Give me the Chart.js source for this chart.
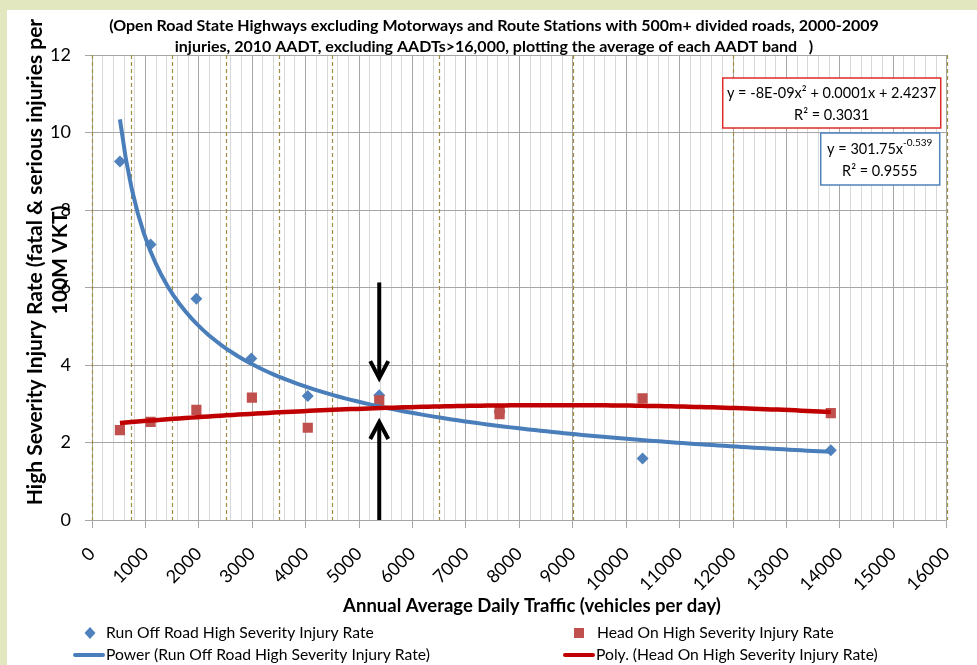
<!DOCTYPE html>
<html>
<head>
<meta charset="utf-8">
<script src="https://cdn.jsdelivr.net/npm/chart.js@4.4.1/dist/chart.umd.min.js"></script>
<style>
    html, body { margin: 0; padding: 0; background: #e3e7bf; }
    canvas { display: block; }
</style>
</head>
<body>
<canvas id="chart" width="977" height="665"></canvas>
<script>
// values
// (the 7630 run-off-road point sits under the head-on squares there)
const ror_aadt = [523, 1096, 1954, 2982, 4039, 5377, 7630, 10306, 13830];
const ror_rate = [9.25, 7.11, 5.71, 4.17, 3.20, 3.22, 2.80, 1.59, 1.80];
const head_on_aadt = [523, 1096, 1954, 2993, 4039, 5377, 7630, 7630, 10306, 13830];
const head_on_rate = [2.32, 2.53, 2.84, 3.16, 2.38, 3.09, 2.86, 2.73, 3.14, 2.76];

// AADT band boundaries (dashed lines)
const band_edges = [0, 725, 1500, 2500, 3500, 4500, 6500, 9000, 12000, 16000];

// where the two trend lines cross, marked with arrows
const crossing_aadt = 5377;
const arrow_down = [6.13, 3.66];
const arrow_up = [0, 2.53];

const title_lines = [
    '(Open Road State Highways excluding Motorways and Route Stations with 500m+ divided roads, 2000-2009',
    'injuries, 2010 AADT, excluding AADTs>16,000, plotting the average of each AADT band   )'
];
const y_title_lines = ['High Severity Injury Rate (fatal & serious injuries per', '100M VKT)'];
const x_title = 'Annual Average Daily Traffic (vehicles per day)';
const ror_label = 'Run Off Road High Severity Injury Rate';
const head_on_label = 'Head On High Severity Injury Rate';
const power_label = 'Power (Run Off Road High Severity Injury Rate)';
const poly_label = 'Poly. (Head On High Severity Injury Rate)';
const poly_eq = ['y = -8E-09x\u00b2 + 0.0001x + 2.4237', 'R\u00b2 = 0.3031'];
const power_eq = ['y = 301.75x', '-0.539', 'R\u00b2 = 0.9555'];

const BLUE = '#4f81bd';
const BLUE_LINE = '#4a7ebb';
const RED = '#c0504d';
const RED_LINE = '#c00000';
const FONT = 'Lato, "Open Sans", sans-serif';


function fit_power(xs, ys) {
    const lx = xs.map(Math.log);
    const ly = ys.map(Math.log);
    const n = lx.length;
    const mx = lx.reduce((a, b) => a + b, 0) / n;
    const my = ly.reduce((a, b) => a + b, 0) / n;
    let sxy = 0, sxx = 0;
    for (let i = 0; i < n; i++) {
        sxy += (lx[i] - mx) * (ly[i] - my);
        sxx += (lx[i] - mx) * (lx[i] - mx);
    }
    const b = sxy / sxx;
    const a = Math.exp(my - b * mx);
    return x => a * Math.pow(x, b);
}

function det3(m) {
    return m[0][0] * (m[1][1] * m[2][2] - m[1][2] * m[2][1])
         - m[0][1] * (m[1][0] * m[2][2] - m[1][2] * m[2][0])
         + m[0][2] * (m[1][0] * m[2][1] - m[1][1] * m[2][0]);
}

function fit_quadratic(xs, ys) {
    // least squares, x in thousands to keep the numbers sane
    const S = [0, 0, 0, 0, 0];
    const T = [0, 0, 0];
    xs.forEach((x, i) => {
        const t = x / 1000;
        for (let k = 0; k < 5; k++) S[k] += Math.pow(t, k);
        for (let k = 0; k < 3; k++) T[k] += ys[i] * Math.pow(t, k);
    });
    const M = [[S[4], S[3], S[2]], [S[3], S[2], S[1]], [S[2], S[1], S[0]]];
    const R = [T[2], T[1], T[0]];
    const d = det3(M);
    const coef = [0, 1, 2].map(col => det3(M.map((row, r) => row.map((v, c) => c === col ? R[r] : v))) / d);
    return x => {
        const t = x / 1000;
        return coef[0] * t * t + coef[1] * t + coef[2];
    };
}

function trend_points(xs, fn) {
    const lo = Math.min(...xs);
    const hi = Math.max(...xs);
    const steps = 120;
    const pts = [];
    for (let i = 0; i <= steps; i++) {
        const x = lo + (hi - lo) * i / steps;
        pts.push({ x: x, y: fn(x) });
    }
    return pts;
}

function to_points(xs, ys) {
    return xs.map((x, i) => ({ x: x, y: ys[i] }));
}


const decor = {
    id: 'decor',
    beforeDraw(chart) {
        const c = chart.ctx;
        c.save();
        c.fillStyle = '#e3e7bf';
        c.fillRect(0, 0, chart.width, chart.height);
        c.fillStyle = '#ffffff';
        c.fillRect(7, 10, chart.width - 7, chart.height - 10);
        c.restore();
    },
    beforeDatasetsDraw(chart) {
        const c = chart.ctx;
        const area = chart.chartArea;
        const xs = chart.scales.x;
        c.save();
        c.strokeStyle = '#a08d45';
        c.lineWidth = 1.2;
        c.setLineDash([4, 3]);
        for (const edge of band_edges) {
            const px = Math.round(xs.getPixelForValue(edge)) + 0.5;
            c.beginPath();
            c.moveTo(px, area.top);
            c.lineTo(px, area.bottom);
            c.stroke();
        }
        c.restore();
    },
    afterDatasetsDraw(chart) {
        const c = chart.ctx;
        const xs = chart.scales.x;
        const ys = chart.scales.y;
        const px = xs.getPixelForValue(crossing_aadt);
        c.save();
        c.strokeStyle = '#000';
        c.lineWidth = 4;
        c.lineCap = 'butt';
        for (const [from, to] of [arrow_down, arrow_up]) {
            const y0 = ys.getPixelForValue(from);
            const y1 = ys.getPixelForValue(to);
            const dir = y1 > y0 ? 1 : -1;
            c.beginPath();
            c.moveTo(px, y0);
            c.lineTo(px, y1 - dir * 2);
            c.stroke();
            c.beginPath();
            c.moveTo(px - 9, y1 - dir * 17);
            c.lineTo(px, y1);
            c.lineTo(px + 9, y1 - dir * 17);
            c.stroke();
        }
        c.restore();
    },
    afterDraw(chart) {
        const c = chart.ctx;
        const area = chart.chartArea;
        c.save();

        // chart title
        c.fillStyle = '#000';
        c.textAlign = 'center';
        c.textBaseline = 'middle';
        c.font = 'bold 16px ' + FONT;
        c.fillText(title_lines[0], 494, 26);
        c.fillText(title_lines[1], 494, 47);

        // y title, two rotated lines
        c.font = 'bold 21px ' + FONT;
        c.save();
        c.translate(35, 262);
        c.rotate(-Math.PI / 2);
        c.fillText(y_title_lines[0], 0, 0);
        c.restore();
        c.save();
        c.translate(60, 260);
        c.rotate(-Math.PI / 2);
        c.fillText(y_title_lines[1], 0, 0);
        c.restore();

        // x title
        c.font = 'bold 18.5px ' + FONT;
        c.fillText(x_title, 532, 606);

        // trend line equation boxes
        const right = area.right;
        const top = area.top;
        c.lineWidth = 1.5;
        c.fillStyle = '#fff';
        c.strokeStyle = '#e02a2a';
        c.fillRect(right - 224, top + 23, 218, 50);
        c.strokeRect(right - 224, top + 23, 218, 50);
        c.strokeStyle = '#4f81bd';
        c.fillRect(right - 126, top + 78, 119, 52);
        c.strokeRect(right - 126, top + 78, 119, 52);

        c.fillStyle = '#000';
        c.font = '14.5px ' + FONT;
        c.textAlign = 'center';
        c.fillText(poly_eq[0], right - 115, top + 38);
        c.fillText(poly_eq[1], right - 115, top + 60);

        const cx = right - 67;
        const w_base = c.measureText(power_eq[0]).width;
        c.font = '10px ' + FONT;
        const w_sup = c.measureText(power_eq[1]).width;
        const start = cx - (w_base + w_sup) / 2;
        c.textAlign = 'left';
        c.font = '14.5px ' + FONT;
        c.fillText(power_eq[0], start, top + 94);
        c.font = '10px ' + FONT;
        c.fillText(power_eq[1], start + w_base, top + 88);
        c.font = '14.5px ' + FONT;
        c.textAlign = 'center';
        c.fillText(power_eq[2], cx, top + 116);

        // legend
        c.font = '15.7px ' + FONT;
        c.textAlign = 'left';
        c.fillStyle = BLUE;
        c.beginPath();
        c.moveTo(90, 627);
        c.lineTo(95.5, 633);
        c.lineTo(90, 639);
        c.lineTo(84.5, 633);
        c.closePath();
        c.fill();
        c.fillStyle = RED;
        c.fillRect(574, 628, 10, 10);

        c.lineWidth = 4;
        c.lineCap = 'round';
        c.strokeStyle = BLUE_LINE;
        c.beginPath();
        c.moveTo(75, 655);
        c.lineTo(103, 655);
        c.stroke();
        c.strokeStyle = RED_LINE;
        c.beginPath();
        c.moveTo(565, 655);
        c.lineTo(593, 655);
        c.stroke();

        c.fillStyle = '#000';
        c.fillText(ror_label, 106, 633);
        c.fillText(power_label, 106, 655);
        c.fillText(head_on_label, 597, 633);
        c.fillText(poly_label, 596, 655);

        c.restore();
    }
};


const power_fn = fit_power(ror_aadt, ror_rate);
const poly_fn = fit_quadratic(head_on_aadt, head_on_rate);

const ctx = document.getElementById('chart').getContext('2d');
const chart = new Chart(ctx, {
    type: 'scatter',
    data: {
        datasets: [
            {
                label: poly_label,
                data: trend_points(head_on_aadt, poly_fn),
                showLine: true,
                borderColor: RED_LINE,
                borderWidth: 4.5,
                pointRadius: 0,
                order: 0
            },
            {
                label: power_label,
                data: trend_points(ror_aadt, power_fn),
                showLine: true,
                borderColor: BLUE_LINE,
                borderWidth: 4,
                pointRadius: 0,
                order: 1
            },
            {
                label: head_on_label,
                data: to_points(head_on_aadt, head_on_rate),
                pointStyle: 'rect',
                pointRadius: 7.2,
                backgroundColor: RED,
                borderColor: RED,
                borderWidth: 0,
                order: 2
            },
            {
                label: ror_label,
                data: to_points(ror_aadt, ror_rate),
                pointStyle: 'rectRot',
                pointRadius: 6,
                backgroundColor: BLUE,
                borderColor: BLUE,
                borderWidth: 0,
                order: 3
            }
        ]
    },
    options: {
        responsive: false,
        animation: false,
        layout: {
            padding: { top: 55, right: 28, left: 0, bottom: 0 }
        },
        plugins: {
            legend: { display: false },
            tooltip: { enabled: false }
        },
        scales: {
            x: {
                type: 'linear',
                min: 0,
                max: 16000,
                afterFit: (scale) => { scale.height = 145; },
                border: { color: '#a6a6a6' },
                grid: {
                    color: (c) => c.tick && c.tick.value % 1000 === 0 ? '#a6a6a6' : '#d9d9d9',
                    tickColor: (c) => c.tick && c.tick.value % 1000 === 0 ? '#a6a6a6' : 'rgba(0,0,0,0)',
                    tickLength: 8
                },
                ticks: {
                    stepSize: 200,
                    autoSkip: false,
                    minRotation: 45,
                    maxRotation: 45,
                    padding: 15,
                    color: '#000',
                    font: { family: FONT, size: 18 },
                    callback: (v) => v % 1000 === 0 ? String(v) : ''
                }
            },
            y: {
                min: 0,
                max: 12,
                afterFit: (scale) => { scale.width = 92; },
                border: { color: '#a6a6a6' },
                grid: {
                    color: '#a6a6a6',
                    tickLength: 7
                },
                ticks: {
                    stepSize: 2,
                    padding: 14,
                    color: '#000',
                    font: { family: FONT, size: 18 }
                }
            }
        }
    },
    plugins: [decor]
});
</script>
</body>
</html>
